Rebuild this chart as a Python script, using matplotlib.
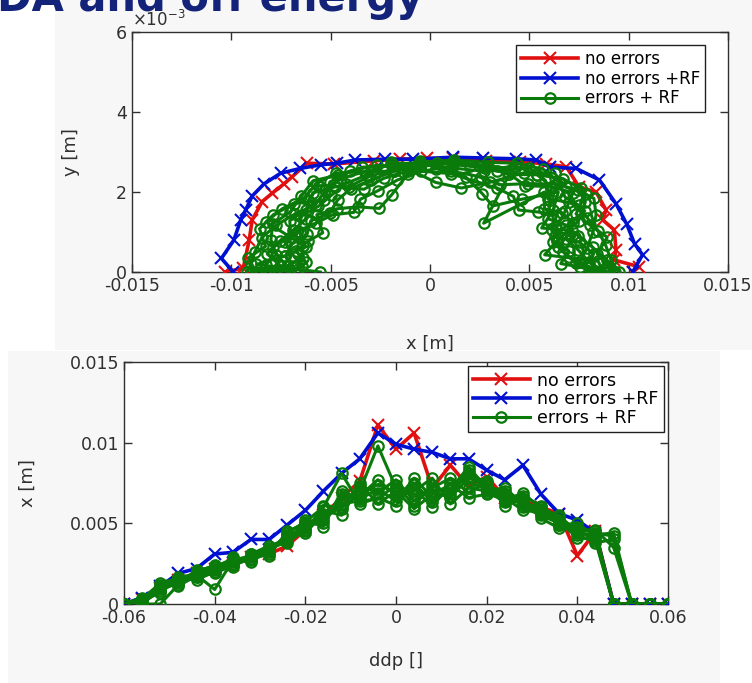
import matplotlib
matplotlib.use("Agg")
import matplotlib.pyplot as plt
from matplotlib.patches import Rectangle

plt.rcParams['font.family'] = ['DejaVu Sans']
plt.rcParams['axes.unicode_minus'] = False

# ---------------- dynamic aperture in x-y ----------------
da_x_noerr = [-0.0103, -0.0094, -0.0091, -0.00895, -0.00845, -0.00794, -0.00736, -0.00694,
              -0.00619, -0.00485, -0.00284, -0.0015, -0.00017, 0.00116, 0.00284, 0.00452,
              0.00585, 0.00686, 0.0075, 0.00836, 0.00886, 0.0087, 0.00928, 0.00936,
              0.00928, 0.01054, 0.0102]
da_y_noerr = [0.0, 0.0001, 0.0008, 0.0013, 0.00176, 0.00197, 0.0022, 0.00238,
              0.00272, 0.0027, 0.00278, 0.00282, 0.00284, 0.00284, 0.00278, 0.00276,
              0.0027, 0.00263, 0.00213, 0.002, 0.00155, 0.0013, 0.00105, 0.00055,
              0.0003, 0.00013, 0.0]

da_x_rf = [-0.0099, -0.0105, -0.00987, -0.00953, -0.00928, -0.00895, -0.00836, -0.00752,
           -0.00652, -0.0055, -0.00468, -0.00376, -0.00226, -0.00085, 0.00116, 0.00267,
           0.00435, 0.00535, 0.00602, 0.00736, 0.00853, 0.00937, 0.0099, 0.0103,
           0.0107, 0.0102]
da_y_rf = [0.0, 0.00034, 0.0008, 0.0013, 0.00155, 0.0019, 0.0022, 0.00247,
           0.00259, 0.00268, 0.00272, 0.0028, 0.00282, 0.00282, 0.00287, 0.00285,
           0.00283, 0.0028, 0.00262, 0.00259, 0.0023, 0.0017, 0.0012, 0.0007,
           0.00043, 0.0]

# error seeds with RF
da_x_err = [
    [0.0095, 0.00912, 0.00884, 0.00846, 0.00792, 0.00748, 0.0068, 0.00648, 0.0057, 0.00437,
     0.00294, 0.0012, -0.00049, -0.00192, -0.00326, -0.0045, -0.00527, -0.00576, -0.0068,
     -0.00774, -0.00846, -0.00883, -0.00902, -0.0092],
    [0.00855, 0.00799, 0.00744, 0.00683, 0.00722, 0.00663, 0.00576, 0.00576, 0.0027, 0.00414,
     0.00285, 0.00116, -0.00048, -0.0018, -0.00298, -0.004, -0.00465, -0.00504, -0.006,
     -0.00619, -0.00694, -0.00728, -0.0069, -0.0081],
    [0.00903, 0.00658, 0.00698, 0.00619, 0.00634, 0.0068, 0.0072, 0.00612, 0.0048, 0.00396,
     0.00279, 0.00115, -0.0005, -0.00184, -0.00308, -0.0041, -0.00558, -0.00612, -0.00624,
     -0.00688, -0.00757, -0.00819, -0.00754, -0.00856],
    [0.00874, 0.00846, 0.00577, 0.00637, 0.00748, 0.00782, 0.0076, 0.0067, 0.0054, 0.00392,
     0.00285, 0.00118, -0.00048, -0.0018, -0.00326, -0.00475, -0.0057, -0.00634, -0.00744,
     -0.00826, -0.00623, -0.00728, -0.00874, -0.00552],
    [0.00922, 0.00893, 0.00818, 0.00746, 0.00686, 0.00595, 0.006, 0.00612, 0.0054, 0.00428,
     0.0027, 0.00112, -0.00048, -0.00196, -0.00315, -0.00425, -0.00496, -0.00562, -0.00656,
     -0.00654, -0.00641, -0.00637, -0.00718, -0.00902],
    [0.00836, 0.00752, 0.00791, 0.00819, 0.00836, 0.00825, 0.00744, 0.00634, 0.00492, 0.00351,
     0.00255, 0.00108, -0.00049, -0.0019, -0.0034, -0.00465, -0.00589, -0.00648, -0.00704,
     -0.00791, -0.00801, -0.00774, -0.00828, -0.00828],
    [0.00884, 0.00803, 0.00701, 0.00644, 0.00716, 0.00562, 0.00619, 0.00646, 0.00462, 0.00315,
     0.00263, 0.00179, 0.00032, -0.0011, -0.00193, -0.00255, -0.00364, -0.00469, -0.0057,
     -0.0054, -0.00613, -0.00675, -0.00622, -0.00662, -0.00782],
    [0.00931, 0.00898, 0.00842, 0.00892, 0.00806, 0.00735, 0.00784, 0.00684, 0.00627, 0.00473,
     0.003, 0.00158, 0.00028, -0.00116, -0.00267, -0.00404, -0.00504, -0.00536, -0.00684,
     -0.00789, -0.00858, -0.00828, -0.00915, -0.00874],
    [0.00808, 0.00733, 0.0067, 0.00728, 0.00616, 0.00638, 0.00544, 0.00446, 0.0042, 0.00338,
     0.0024, 0.00106, -0.00045, -0.00164, -0.00263, -0.0035, -0.00384, -0.0049, -0.00576,
     -0.00671, -0.0073, -0.00683, -0.00644, -0.00736],
    [0.00855, 0.00756, 0.00823, 0.00754, 0.00627, 0.00779, 0.00701, 0.00593, 0.00581, 0.00499,
     0.00338, 0.002, 0.00034, -0.00113, -0.00234, -0.00332, -0.00476, -0.0059, -0.00623,
     -0.00706, -0.007, -0.00792, -0.0075, -0.0081],
]
da_y_err = [
    [0.0, 0.00029, 0.00067, 0.00102, 0.00135, 0.00167, 0.00187, 0.00225, 0.00257, 0.00272,
     0.00274, 0.0028, 0.00274, 0.00269, 0.00251, 0.00234, 0.00204, 0.00168, 0.00145,
     0.00117, 0.00086, 0.00049, 0.0002, 0.0],
    [0.0, 0.00026, 0.00056, 0.00083, 0.00123, 0.00148, 0.00158, 0.002, 0.00122, 0.00258,
     0.00266, 0.00272, 0.00266, 0.00252, 0.0023, 0.00208, 0.0018, 0.00147, 0.00128,
     0.00094, 0.0007, 0.0004, 0.00015, 0.0],
    [0.0, 0.00021, 0.00053, 0.00075, 0.00108, 0.00152, 0.00198, 0.00213, 0.00216, 0.00246,
     0.0026, 0.00269, 0.00277, 0.00258, 0.00238, 0.00213, 0.00216, 0.00179, 0.00133,
     0.00104, 0.00077, 0.00045, 0.00016, 0.0],
    [0.0, 0.00027, 0.00043, 0.00077, 0.00128, 0.00175, 0.00209, 0.00233, 0.00243, 0.00244,
     0.00266, 0.00274, 0.00266, 0.00252, 0.00251, 0.00247, 0.00221, 0.00185, 0.00158,
     0.00125, 0.00063, 0.0004, 0.00019, 0.0],
    [0.0, 0.00029, 0.00062, 0.0009, 0.00117, 0.00133, 0.00165, 0.00213, 0.00243, 0.00266,
     0.00252, 0.0026, 0.00269, 0.00274, 0.00243, 0.00221, 0.00192, 0.00164, 0.00139,
     0.00099, 0.00065, 0.00035, 0.00016, 0.0],
    [0.0, 0.00024, 0.0006, 0.00099, 0.00143, 0.00184, 0.00205, 0.0022, 0.00221, 0.00218,
     0.00238, 0.00252, 0.00272, 0.00266, 0.00262, 0.00242, 0.00228, 0.00189, 0.0015,
     0.0012, 0.00081, 0.00043, 0.00018, 0.0],
    [0.0, 0.00013, 0.00038, 0.00063, 0.00104, 0.0011, 0.00154, 0.002, 0.00182, 0.00165,
     0.00196, 0.00238, 0.00258, 0.00246, 0.00193, 0.00159, 0.00163, 0.00158, 0.00143,
     0.00098, 0.00077, 0.00053, 0.00024, 0.00007, 0.0],
    [0.0, 0.00014, 0.00045, 0.00087, 0.00117, 0.00145, 0.00195, 0.00212, 0.00247, 0.00248,
     0.00224, 0.0021, 0.00224, 0.0026, 0.00267, 0.00252, 0.00225, 0.0018, 0.00171,
     0.00143, 0.00108, 0.00064, 0.00035, 0.0],
    [0.0, 0.00023, 0.0005, 0.00088, 0.00105, 0.00143, 0.0015, 0.00155, 0.00189, 0.0021,
     0.00224, 0.00246, 0.00252, 0.0023, 0.00203, 0.00182, 0.00149, 0.00143, 0.00122,
     0.00101, 0.00074, 0.00038, 0.00014, 0.0],
    [0.0, 0.00012, 0.00044, 0.00074, 0.00091, 0.00153, 0.00174, 0.00183, 0.00229, 0.00261,
     0.00252, 0.00266, 0.00272, 0.00252, 0.00234, 0.00207, 0.00213, 0.00198, 0.00156,
     0.00128, 0.00088, 0.00062, 0.00029, 0.0],
]

# ---------------- momentum aperture: x vs ddp ----------------
ddp = [-0.060, -0.056, -0.052, -0.048, -0.044, -0.040, -0.036, -0.032, -0.028, -0.024,
       -0.020, -0.016, -0.012, -0.008, -0.004, 0.000, 0.004, 0.008, 0.012, 0.016,
       0.020, 0.024, 0.028, 0.032, 0.036, 0.040, 0.044, 0.048, 0.052, 0.056, 0.060]

ma_noerr = [0, 0.0003, 0.0010, 0.0015, 0.0019, 0.0022, 0.0024, 0.0029, 0.0031, 0.0036,
            0.0046, 0.0055, 0.0066, 0.0076, 0.0111, 0.0096, 0.0106, 0.0072, 0.0086, 0.0073,
            0.0079, 0.0066, 0.0064, 0.0060, 0.0056, 0.0030, 0.0045, 0, 0, 0, 0]
ma_rf = [0, 0.0004, 0.0011, 0.0019, 0.0022, 0.0031, 0.0032, 0.0040, 0.0040, 0.0049,
         0.0058, 0.0070, 0.0081, 0.0090, 0.0106, 0.0099, 0.0096, 0.0094, 0.0090, 0.0090,
         0.0083, 0.0077, 0.0086, 0.0068, 0.0056, 0.0052, 0.0044, 0, 0, 0, 0]
ma_err = [
    [0, 0.0002, 0.0011, 0.0015, 0.0019, 0.0022, 0.0026, 0.0029, 0.0033, 0.0041, 0.0047,
     0.0054, 0.0064, 0.0070, 0.0098, 0.0072, 0.0068, 0.0070, 0.0066, 0.0078, 0.0074,
     0.0068, 0.0064, 0.0058, 0.0052, 0.0047, 0.0045, 0, 0, 0, 0],
    [0, 0, 0, 0.0012, 0.0017, 0.0021, 0.0024, 0.0028, 0.0031, 0.0044, 0.0051, 0.0060,
     0.0081, 0.0062, 0.0066, 0.0061, 0.0075, 0.0063, 0.0071, 0.0085, 0.0072, 0.0070,
     0.0060, 0.0055, 0.0050, 0.0043, 0.0038, 0.0040, 0, 0, 0],
    [0, 0.0004, 0.0010, 0.0017, 0.0018, 0.0009, 0.0027, 0.0030, 0.0035, 0.0038, 0.0046,
     0.0058, 0.0055, 0.0073, 0.0069, 0.0077, 0.0064, 0.0072, 0.0078, 0.0069, 0.0076,
     0.0063, 0.0067, 0.0061, 0.0049, 0.0050, 0.0042, 0, 0, 0, 0],
    [0, 0.0001, 0.0008, 0.0014, 0.0020, 0.0024, 0.0023, 0.0031, 0.0036, 0.0040, 0.0049,
     0.0050, 0.0068, 0.0067, 0.0077, 0.0067, 0.0070, 0.0078, 0.0062, 0.0072, 0.0070,
     0.0072, 0.0062, 0.0060, 0.0054, 0.0045, 0.0046, 0.0035, 0, 0, 0],
    [0, 0.0003, 0.0013, 0.0016, 0.0015, 0.0020, 0.0029, 0.0027, 0.0032, 0.0043, 0.0044,
     0.0056, 0.0059, 0.0075, 0.0062, 0.0070, 0.0059, 0.0068, 0.0074, 0.0066, 0.0068,
     0.0066, 0.0058, 0.0057, 0.0051, 0.0041, 0.0040, 0, 0, 0, 0],
    [0, 0, 0.0009, 0.0013, 0.0021, 0.0023, 0.0025, 0.0030, 0.0034, 0.0039, 0.0052,
     0.0048, 0.0070, 0.0065, 0.0071, 0.0064, 0.0078, 0.0066, 0.0069, 0.0081, 0.0075,
     0.0061, 0.0065, 0.0053, 0.0047, 0.0048, 0.0044, 0.0042, 0, 0, 0],
    [0, 0.0002, 0.0007, 0.0016, 0.0017, 0.0023, 0.0028, 0.0026, 0.0034, 0.0042, 0.0045,
     0.0061, 0.0060, 0.0068, 0.0074, 0.0069, 0.0072, 0.0060, 0.0075, 0.0076, 0.0071,
     0.0068, 0.0063, 0.0056, 0.0055, 0.0044, 0.0043, 0.0044, 0, 0, 0],
    [0, 0.0001, 0.0012, 0.0011, 0.0018, 0.0019, 0.0024, 0.0031, 0.0030, 0.0045, 0.0050,
     0.0052, 0.0062, 0.0064, 0.0065, 0.0074, 0.0061, 0.0074, 0.0067, 0.0083, 0.0069,
     0.0064, 0.0069, 0.0059, 0.0049, 0.0046, 0.0039, 0, 0, 0, 0],
]

labels = ['no errors', 'no errors +RF', 'errors + RF']
RED = '#e01010'
BLUE = '#0010d0'
GREEN = '#0a7a0a'
AXC = '#303030'

W, H = 752, 683
fig = plt.figure(figsize=(W / 100, H / 100), dpi=100)
fig.patch.set_facecolor('white')

# light grey slide panels behind the two plots
fig.patches.append(Rectangle((55 / W, 1 - 350 / H), 1 - 55 / W, 350 / H,
                             transform=fig.transFigure, facecolor='#f7f7f7',
                             edgecolor='none', zorder=-10))
fig.patches.append(Rectangle((8 / W, 0), 712 / W, 1 - 351 / H,
                             transform=fig.transFigure, facecolor='#f7f7f7',
                             edgecolor='none', zorder=-10))

# slide heading, running off the top edge
fig.text(-0.004, 1 - 11 / H, 'DA and off energy', fontsize=30, fontweight='bold',
         color='#14237a', family='DejaVu Sans', ha='left', va='baseline',
         zorder=20)


def style_axes(ax):
    ax.set_facecolor('white')
    for s in ax.spines.values():
        s.set_color(AXC)
        s.set_linewidth(1.0)
    ax.tick_params(direction='in', length=6, width=1.0, colors=AXC,
                   labelcolor='#303030', labelsize=12.5, top=True, right=True)


lw_main = 2.6
ms_x = 9

# top plot
ax1 = fig.add_axes([132 / W, 1 - 272 / H, 596 / W, 240 / H])
style_axes(ax1)
ax1.plot(da_x_noerr, da_y_noerr, color=RED, lw=lw_main, marker='x', ms=ms_x, mew=1.5,
         label=labels[0], zorder=3)
ax1.plot(da_x_rf, da_y_rf, color=BLUE, lw=lw_main, marker='x', ms=ms_x, mew=1.5,
         label=labels[1], zorder=3)
for i, (gx, gy) in enumerate(zip(da_x_err, da_y_err)):
    ax1.plot(gx, gy, color=GREEN, lw=2.2, marker='o', ms=7.5, mfc='none', mew=1.6,
             label=labels[2] if i == 0 else None, zorder=4)
ax1.set_xlim(-0.015, 0.015)
ax1.set_ylim(0, 0.006)
ax1.set_xticks([-0.015, -0.01, -0.005, 0, 0.005, 0.01, 0.015])
ax1.set_xticklabels(['-0.015', '-0.01', '-0.005', '0', '0.005', '0.01', '0.015'])
ax1.set_yticks([0, 0.002, 0.004, 0.006])
ax1.set_yticklabels(['0', '2', '4', '6'])
ax1.text(0.0, 1.01, r'$\times10^{-3}$', transform=ax1.transAxes, fontsize=12,
         color='#303030', ha='left', va='bottom')
ax1.set_xlabel('x [m]', fontsize=13, color='#303030', labelpad=29)
ax1.set_ylabel('y [m]', fontsize=13, color='#303030', labelpad=26)
leg1 = ax1.legend(loc='upper right', fontsize=12, handlelength=3.4, frameon=True,
                  fancybox=False, edgecolor='#202020', framealpha=1,
                  borderpad=0.3, labelspacing=0.1, handletextpad=0.4,
                  bbox_to_anchor=(0.975, 0.98))
leg1.get_frame().set_linewidth(1.0)

# bottom plot
ax2 = fig.add_axes([124 / W, 1 - 604 / H, 544 / W, 242 / H])
style_axes(ax2)
ax2.plot(ddp, ma_noerr, color=RED, lw=lw_main, marker='x', ms=ms_x, mew=1.5,
         label=labels[0], zorder=3)
ax2.plot(ddp, ma_rf, color=BLUE, lw=lw_main, marker='x', ms=ms_x, mew=1.5,
         label=labels[1], zorder=3)
for i, g in enumerate(ma_err):
    ax2.plot(ddp, g, color=GREEN, lw=2.2, marker='o', ms=7.5, mfc='none', mew=1.6,
             label=labels[2] if i == 0 else None, zorder=4)
ax2.set_xlim(-0.06, 0.06)
ax2.set_ylim(0, 0.015)
ax2.set_xticks([-0.06, -0.04, -0.02, 0, 0.02, 0.04, 0.06])
ax2.set_xticklabels(['-0.06', '-0.04', '-0.02', '0', '0.02', '0.04', '0.06'])
ax2.set_yticks([0, 0.005, 0.01, 0.015])
ax2.set_yticklabels(['0', '0.005', '0.01', '0.015'])
ax2.set_xlabel('ddp []', fontsize=13, color='#303030', labelpad=18)
ax2.set_ylabel('x [m]', fontsize=13, color='#303030', labelpad=24)
leg2 = ax2.legend(loc='upper right', fontsize=12.5, handlelength=3.3, frameon=True,
                  fancybox=False, edgecolor='#202020', framealpha=1,
                  borderpad=0.3, labelspacing=0.05, handletextpad=0.4,
                  borderaxespad=0.25, bbox_to_anchor=(1.0, 1.0))
leg2.get_frame().set_linewidth(1.0)

fig.savefig('out.png', dpi=100)
